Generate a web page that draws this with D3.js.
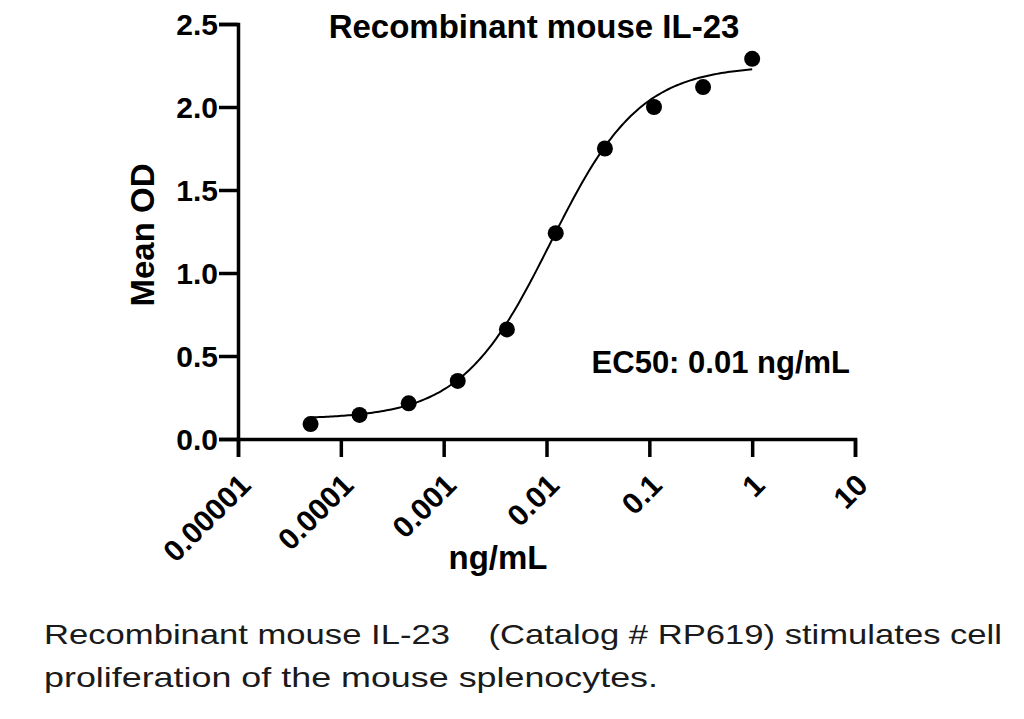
<!DOCTYPE html>
<html lang="en">
<head>
    <meta charset="utf-8">
    <title>Recombinant mouse IL-23</title>
    <script src="https://d3js.org/d3.v7.min.js" charset="utf-8"></script>
    <style type="text/css">
        body { margin: 0; background: white; }
        .tick text { font-family: "Liberation Sans", Arial, sans-serif; font-weight: bold; fill: black; }
        .lbl { font-family: "Liberation Sans", Arial, sans-serif; font-weight: bold; fill: black; }
        .caption { font-family: "Liberation Sans", Arial, sans-serif; fill: #1a1a1a; white-space: pre; }
    </style>
</head>
<body>
    <div id="main"></div>
    <script type="text/javascript">
            // data (3-fold dilutions from 1 ng/mL)
            var conc = [0.0000508, 0.000152, 0.000457, 0.00137, 0.00412, 0.0123, 0.037, 0.111, 0.333, 1];
            var meanOD = [0.09, 0.145, 0.215, 0.35, 0.66, 1.24, 1.75, 2.0, 2.12, 2.29];

            var xTicks = [0.00001, 0.0001, 0.001, 0.01, 0.1, 1, 10];
            var xTickLabels = ["0.00001", "0.0001", "0.001", "0.01", "0.1", "1", "10"];
            var yTicks = [0, 0.5, 1.0, 1.5, 2.0, 2.5];

            // 4PL fit shown in the chart
            var fitBottom = 0.12, fitTop = 2.25, fitEC50 = 0.011, fitHill = 1.0;
            var fitRange = [0.0000508, 1];

            var width = 1024;
            var height = 719;

            var svg = d3.select("div#main")
                        .append("svg")
                        .attr("width", width)
                        .attr("height", height)

            var x = d3.scaleLog().domain([0.00001, 10]).range([238, 855])
            var y = d3.scaleLinear().domain([0, 2.5]).range([439, 24])

            // x axis
            var gx = svg.append("g")
                .attr("transform", "translate(0," + y(0) + ")")
                .call(d3.axisBottom(x).tickValues(xTicks).tickSizeOuter(0).tickSize(18)
                    .tickFormat(function(d, i){ return xTickLabels[i] }))
            gx.select(".domain").attr("stroke-width", 3.5)
            gx.selectAll(".tick line").attr("stroke-width", 3.5)
            gx.selectAll(".tick text")
                .attr("font-size", 30)
                .attr("text-anchor", "end")
                .attr("dy", 0)
                .attr("y", 0)
                .attr("transform", "translate(14,48) rotate(-45)")

            // y axis
            var gy = svg.append("g")
                .attr("transform", "translate(" + x(0.00001) + ",0)")
                .call(d3.axisLeft(y).tickValues(yTicks).tickSizeOuter(0).tickSize(19)
                    .tickFormat(d3.format(".1f")))
            gy.select(".domain").attr("stroke-width", 3.5)
            gy.selectAll(".tick line").attr("stroke-width", 3.5)
            gy.selectAll(".tick text").attr("font-size", 30).attr("x", -20).attr("dy", "0.36em")

            // fitted curve
            var fit = function(c){ return fitBottom + (fitTop - fitBottom) / (1 + Math.pow(fitEC50 / c, fitHill)) }
            var curvePts = d3.range(0, 201).map(function(i){
                var lc = Math.log10(fitRange[0]) + i / 200 * (Math.log10(fitRange[1]) - Math.log10(fitRange[0]));
                var c = Math.pow(10, lc);
                return [c, fit(c)];
            })
            svg.append("path")
                .datum(curvePts)
                .attr("fill", "none")
                .attr("stroke", "black")
                .attr("stroke-width", 2)
                .attr("d", d3.line().x(function(d){ return x(d[0]) }).y(function(d){ return y(d[1]) }))

            // points
            svg.append("g").selectAll("circle")
                .data(conc)
                .enter()
                .append("circle")
                .attr("r", 8)
                .attr("cx", function(d){ return x(d) })
                .attr("cy", function(d, i){ return y(meanOD[i]) })
                .attr("fill", "black")

            // titles
            svg.append("text").attr("class", "lbl").attr("x", 534).attr("y", 38)
                .attr("text-anchor", "middle").attr("font-size", 33).text("Recombinant mouse IL-23")
            svg.append("text").attr("class", "lbl").attr("x", 498).attr("y", 569)
                .attr("text-anchor", "middle").attr("font-size", 33).text("ng/mL")
            svg.append("text").attr("class", "lbl")
                .attr("transform", "translate(154,235) rotate(-90)")
                .attr("text-anchor", "middle").attr("font-size", 33).text("Mean OD")
            svg.append("text").attr("class", "lbl").attr("x", 850).attr("y", 373)
                .attr("text-anchor", "end").attr("font-size", 31).text("EC50: 0.01 ng/mL")

            // caption
            svg.append("text").attr("class", "caption").attr("x", 44).attr("y", 644)
                .attr("font-size", 28).attr("textLength", 958).attr("lengthAdjust", "spacingAndGlyphs")
                .text("Recombinant mouse IL-23    (Catalog # RP619) stimulates cell")
            svg.append("text").attr("class", "caption").attr("x", 44).attr("y", 687)
                .attr("font-size", 28).attr("textLength", 614).attr("lengthAdjust", "spacingAndGlyphs")
                .text("proliferation of the mouse splenocytes.")
    </script>
</body>
</html>
